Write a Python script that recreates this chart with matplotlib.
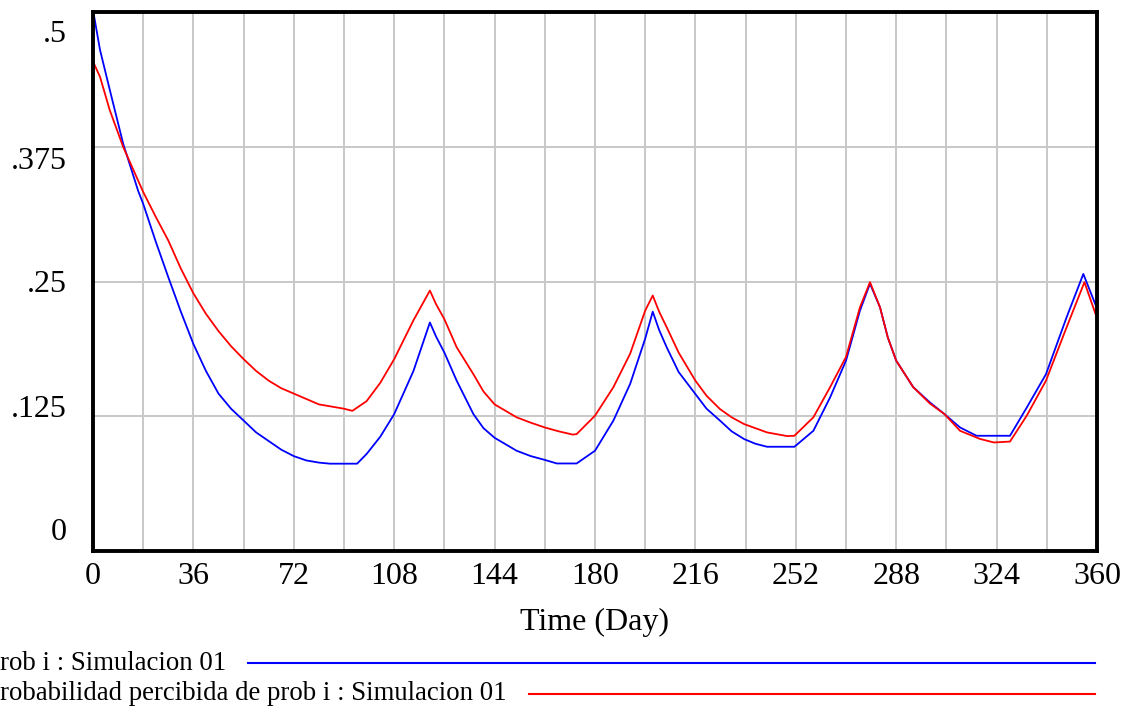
import matplotlib
matplotlib.use("Agg")
import matplotlib.pyplot as plt
from matplotlib.lines import Line2D

plt.rcParams['font.family'] = ['Liberation Serif', 'DejaVu Serif']

# prob i : Simulacion 01
t_prob = [0, 2.5, 6, 10.8, 16.2, 18, 22.5, 27, 31.5, 36, 40.5, 45, 49.5, 54, 58.5, 63,
          67.5, 72, 76.5, 81, 85, 94.7, 98.1, 103, 108, 114.9, 120.8, 123, 126, 130.4,
          136.4, 140, 144, 151.9, 157, 162, 166.3, 173.4, 180, 186.6, 192.6, 198, 200.7,
          203, 205.7, 210, 216, 220, 224.8, 229, 233.5, 237.5, 241.7, 251.5, 258.3,
          264.3, 270, 275, 278.6, 282.2, 285, 288, 294.1, 300, 305.3, 310.9, 316.8,
          328.8, 334.8, 341.7, 349.1, 355.1, 360]
prob_i = [0.502, 0.465, 0.428, 0.378, 0.334, 0.322, 0.287, 0.254, 0.222, 0.192, 0.167,
          0.146, 0.132, 0.121, 0.110, 0.102, 0.094, 0.088, 0.084, 0.082, 0.081, 0.081,
          0.090, 0.106, 0.127, 0.167, 0.212, 0.199, 0.184, 0.158, 0.127, 0.114, 0.105,
          0.093, 0.088, 0.0845, 0.0812, 0.0812, 0.093, 0.121, 0.155, 0.197, 0.222,
          0.205, 0.189, 0.166, 0.1456, 0.132, 0.121, 0.111, 0.1038, 0.0995, 0.0967,
          0.0967, 0.1115, 0.1425, 0.1766, 0.223, 0.248, 0.226, 0.198, 0.1766, 0.152,
          0.138, 0.127, 0.1146, 0.1069, 0.1069, 0.133, 0.164, 0.2168, 0.257, 0.225]

# Probabilidad percibida de prob i : Simulacion 01
t_perc = [0, 2.5, 6, 10.8, 18, 22.5, 27, 31.5, 36, 40.5, 45, 49.5, 54, 58.5, 63, 67.5,
          72, 76.5, 81, 85.5, 90, 93, 98.1, 103, 108, 114.9, 120.8, 123, 126, 130.4,
          136.4, 140, 144, 151.9, 157, 162, 167, 172, 173.4, 180, 186.6, 192.6, 198,
          200.7, 203, 205.7, 210, 216, 220, 224.8, 229, 233.5, 241.7, 248.9, 251.5,
          258.3, 264.3, 270, 275, 278.6, 282.2, 285, 288, 294.1, 300, 305.3, 310.9,
          318, 323, 328.8, 334.8, 341.7, 349.1, 355.5, 360]
prob_perc = [0.454, 0.440, 0.409, 0.375, 0.333, 0.310, 0.288, 0.262, 0.239, 0.220,
             0.204, 0.190, 0.178, 0.167, 0.158, 0.151, 0.146, 0.141, 0.136, 0.134,
             0.132, 0.130, 0.139, 0.156, 0.178, 0.214, 0.2416, 0.229, 0.215, 0.189,
             0.164, 0.148, 0.136, 0.124, 0.119, 0.1146, 0.111, 0.108, 0.1084, 0.1255,
             0.152, 0.183, 0.223, 0.237, 0.222, 0.2076, 0.184, 0.158, 0.144, 0.1317,
             0.124, 0.1177, 0.110, 0.1066, 0.1069, 0.124, 0.152, 0.180, 0.226, 0.2494,
             0.226, 0.198, 0.1766, 0.152, 0.137, 0.127, 0.1115, 0.104, 0.1007, 0.1015,
             0.1255, 0.158, 0.2075, 0.2494, 0.216]

x_ticks = list(range(0, 361, 18))
y_ticks = [0, 0.125, 0.25, 0.375, 0.5]
y_labels = ['0', '.125', '.25', '.375', '.5']
legend_labels = ['rob i : Simulacion 01',
                 'robabilidad percibida de prob i : Simulacion 01']

W, H = 1132, 711
fig = plt.figure(figsize=(W / 100, H / 100), dpi=100)
ax = fig.add_axes([93 / W, 160 / H, 1004 / W, 539 / H])

ax.plot(t_prob, prob_i, color='#0000ff', lw=1.3)
ax.plot(t_perc, prob_perc, color='#ff0000', lw=1.3)

ax.set_xlim(0, 360)
ax.set_ylim(0, 0.5)
ax.set_xticks(x_ticks)
ax.set_xticklabels([str(v) if v % 36 == 0 else '' for v in x_ticks])
ax.set_yticks(y_ticks)
ax.set_yticklabels([])
ax.grid(True, color='#c8c8c8', lw=1.4)
ax.set_axisbelow(True)
ax.tick_params(length=0, labelsize=23, pad=8)
for sp in ax.spines.values():
    sp.set_linewidth(2.8)
    sp.set_color('black')

# Vensim spreads the y labels a bit differently from the grid lines
ylab_pos = [0.035, 0.263, 0.494, 0.722, 0.958]
for lab, p in zip(y_labels, ylab_pos):
    ax.text(-0.026, p, lab, transform=ax.transAxes, ha='right', va='center', fontsize=23)

fig.text(595 / W, 1 - 622 / H, 'Time (Day)', ha='center', va='center', fontsize=23)

# legend below the chart
leg_y = [663, 694]
leg_col = ['#0000ff', '#ff0000']
txts = [fig.text(0, 1 - y / H, lab, ha='left', va='center', fontsize=19.3)
        for lab, y in zip(legend_labels, leg_y)]
fig.canvas.draw()
for t, y, c in zip(txts, leg_y, leg_col):
    bb = t.get_window_extent()
    fig.add_artist(Line2D([(bb.x1 + 22) / W, 1095 / W], [1 - y / H, 1 - y / H],
                          transform=fig.transFigure, color=c, lw=1.5))

fig.savefig('out.png', dpi=100)
